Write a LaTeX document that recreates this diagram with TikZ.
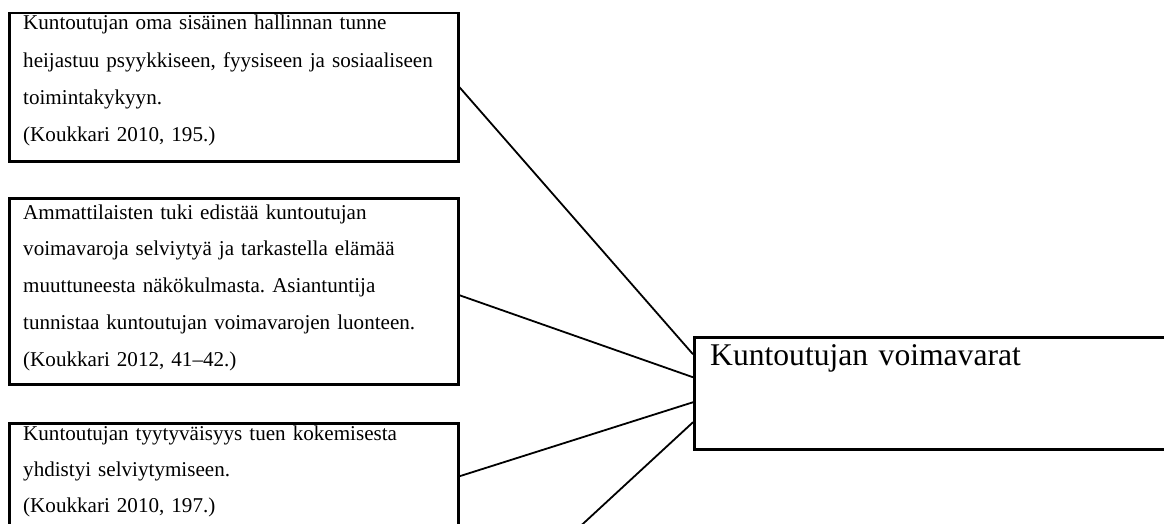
\documentclass[tikz,border=0pt]{standalone}
\usepackage{fontspec}
\setmainfont{Liberation Serif}
\frenchspacing
\begin{document}
\begin{tikzpicture}[x=1pt,y=-1pt,
  box/.style={draw=black, line width=2.5pt, rectangle, inner sep=0pt, anchor=north west},
  txt/.style={inner sep=0pt, anchor=base west, align=left, text width=440pt},
  conn/.style={draw=black, line width=1.8pt}]
\useasboundingbox (0,0) rectangle (1164,524);
\fill[white] (0,0) rectangle (1164,524);
\clip (0,0) rectangle (1164,524);
% boxes
\node[box, minimum width=449pt, minimum height=148pt] (b1) at (8,12) {};
\node[box, minimum width=449pt, minimum height=186pt] (b2) at (8,197) {};
\node[box, minimum width=449pt, minimum height=106pt] (b3) at (8,422) {};
\node[box, minimum width=500pt, minimum height=112pt] (m) at (693,336) {};
% texts
\node[txt, font=\fontsize{21.1pt}{37.3pt}\selectfont] (t1) at (23,30)
  {Kuntoutujan oma sisäinen hallinnan tunne\\heijastuu psyykkiseen, fyysiseen ja sosiaaliseen\\toimintakykyyn.\\(Koukkari 2010, 195.)};
\node[txt, font=\fontsize{21.1pt}{36.8pt}\selectfont] (t2) at (23,219)
  {Ammattilaisten tuki edistää kuntoutujan\\voimavaroja selviytyä ja tarkastella elämää\\muuttuneesta näkökulmasta. Asiantuntija\\tunnistaa kuntoutujan voimavarojen luonteen.\\(Koukkari 2012, 41–42.)};
\node[txt, font=\fontsize{21.1pt}{35.8pt}\selectfont] (t3) at (23,440.5)
  {Kuntoutujan tyytyväisyys tuen kokemisesta\\yhdistyi selviytymiseen.\\(Koukkari 2010, 197.)};
\node[txt, font=\fontsize{31.6pt}{38pt}\selectfont] (tm) at (710,365) {Kuntoutujan voimavarat};
% connectors
\coordinate (c4) at (560,545);
\draw[conn] (b1.east) -- ([yshift=39pt]m.west);
\draw[conn] ([yshift=-4pt]b2.east) -- ([yshift=16pt]m.west);
\draw[conn] (b3.east) -- ([yshift=-9pt]m.west);
\draw[conn] (c4) -- ([yshift=-29pt]m.west);
\end{tikzpicture}
\end{document}
